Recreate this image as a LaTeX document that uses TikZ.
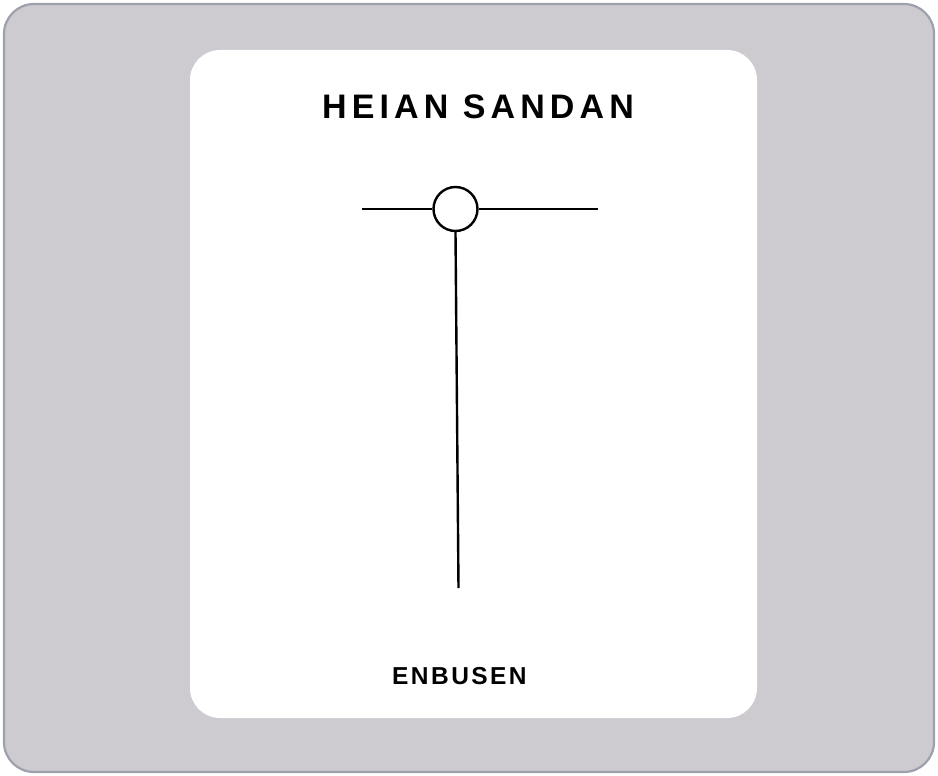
\documentclass[tikz,border=0pt]{standalone}
\usepackage{fontspec}
\setmainfont{Liberation Sans}
\newfontfamily\titlefont[LetterSpace=15]{Liberation Sans Bold}
\newfontfamily\subfont[LetterSpace=10]{Liberation Sans Bold}
\definecolor{outerfill}{HTML}{CDCBD0}
\definecolor{outerline}{HTML}{9CA1AD}
\tikzset{
  stroke/.style={line width=2.4pt, black},
  lbl/.style={inner sep=0pt, anchor=west, text=black},
}
\begin{document}
\begin{tikzpicture}[x=1pt,y=-1pt]
\useasboundingbox (0,0) rectangle (938,776);
\draw[line width=2.2pt, draw=outerline, fill=outerfill, rounded corners=30pt] (4,4) rectangle (934,772);
\fill[white, rounded corners=30pt] (190,50) rectangle (757,718);
\node[lbl, font=\titlefont\fontsize{34}{38}\selectfont] (title) at (322,106.7) {HEIAN SANDAN};
\node[lbl, font=\subfont\fontsize{24.5}{27}\selectfont] (enb) at (392,676.5) {ENBUSEN};
\node[circle, draw, line width=2.4pt, minimum size=44pt, inner sep=0pt] (c) at (455.5,209) {};
\coordinate (l) at (362,209);
\coordinate (r) at (598,209);
\coordinate (b) at (458.5,588);
\draw[stroke] (l) -- (c.west);
\draw[stroke] (c.east) -- (r);
\draw[stroke] (c.south) -- (b);
\end{tikzpicture}
\end{document}
